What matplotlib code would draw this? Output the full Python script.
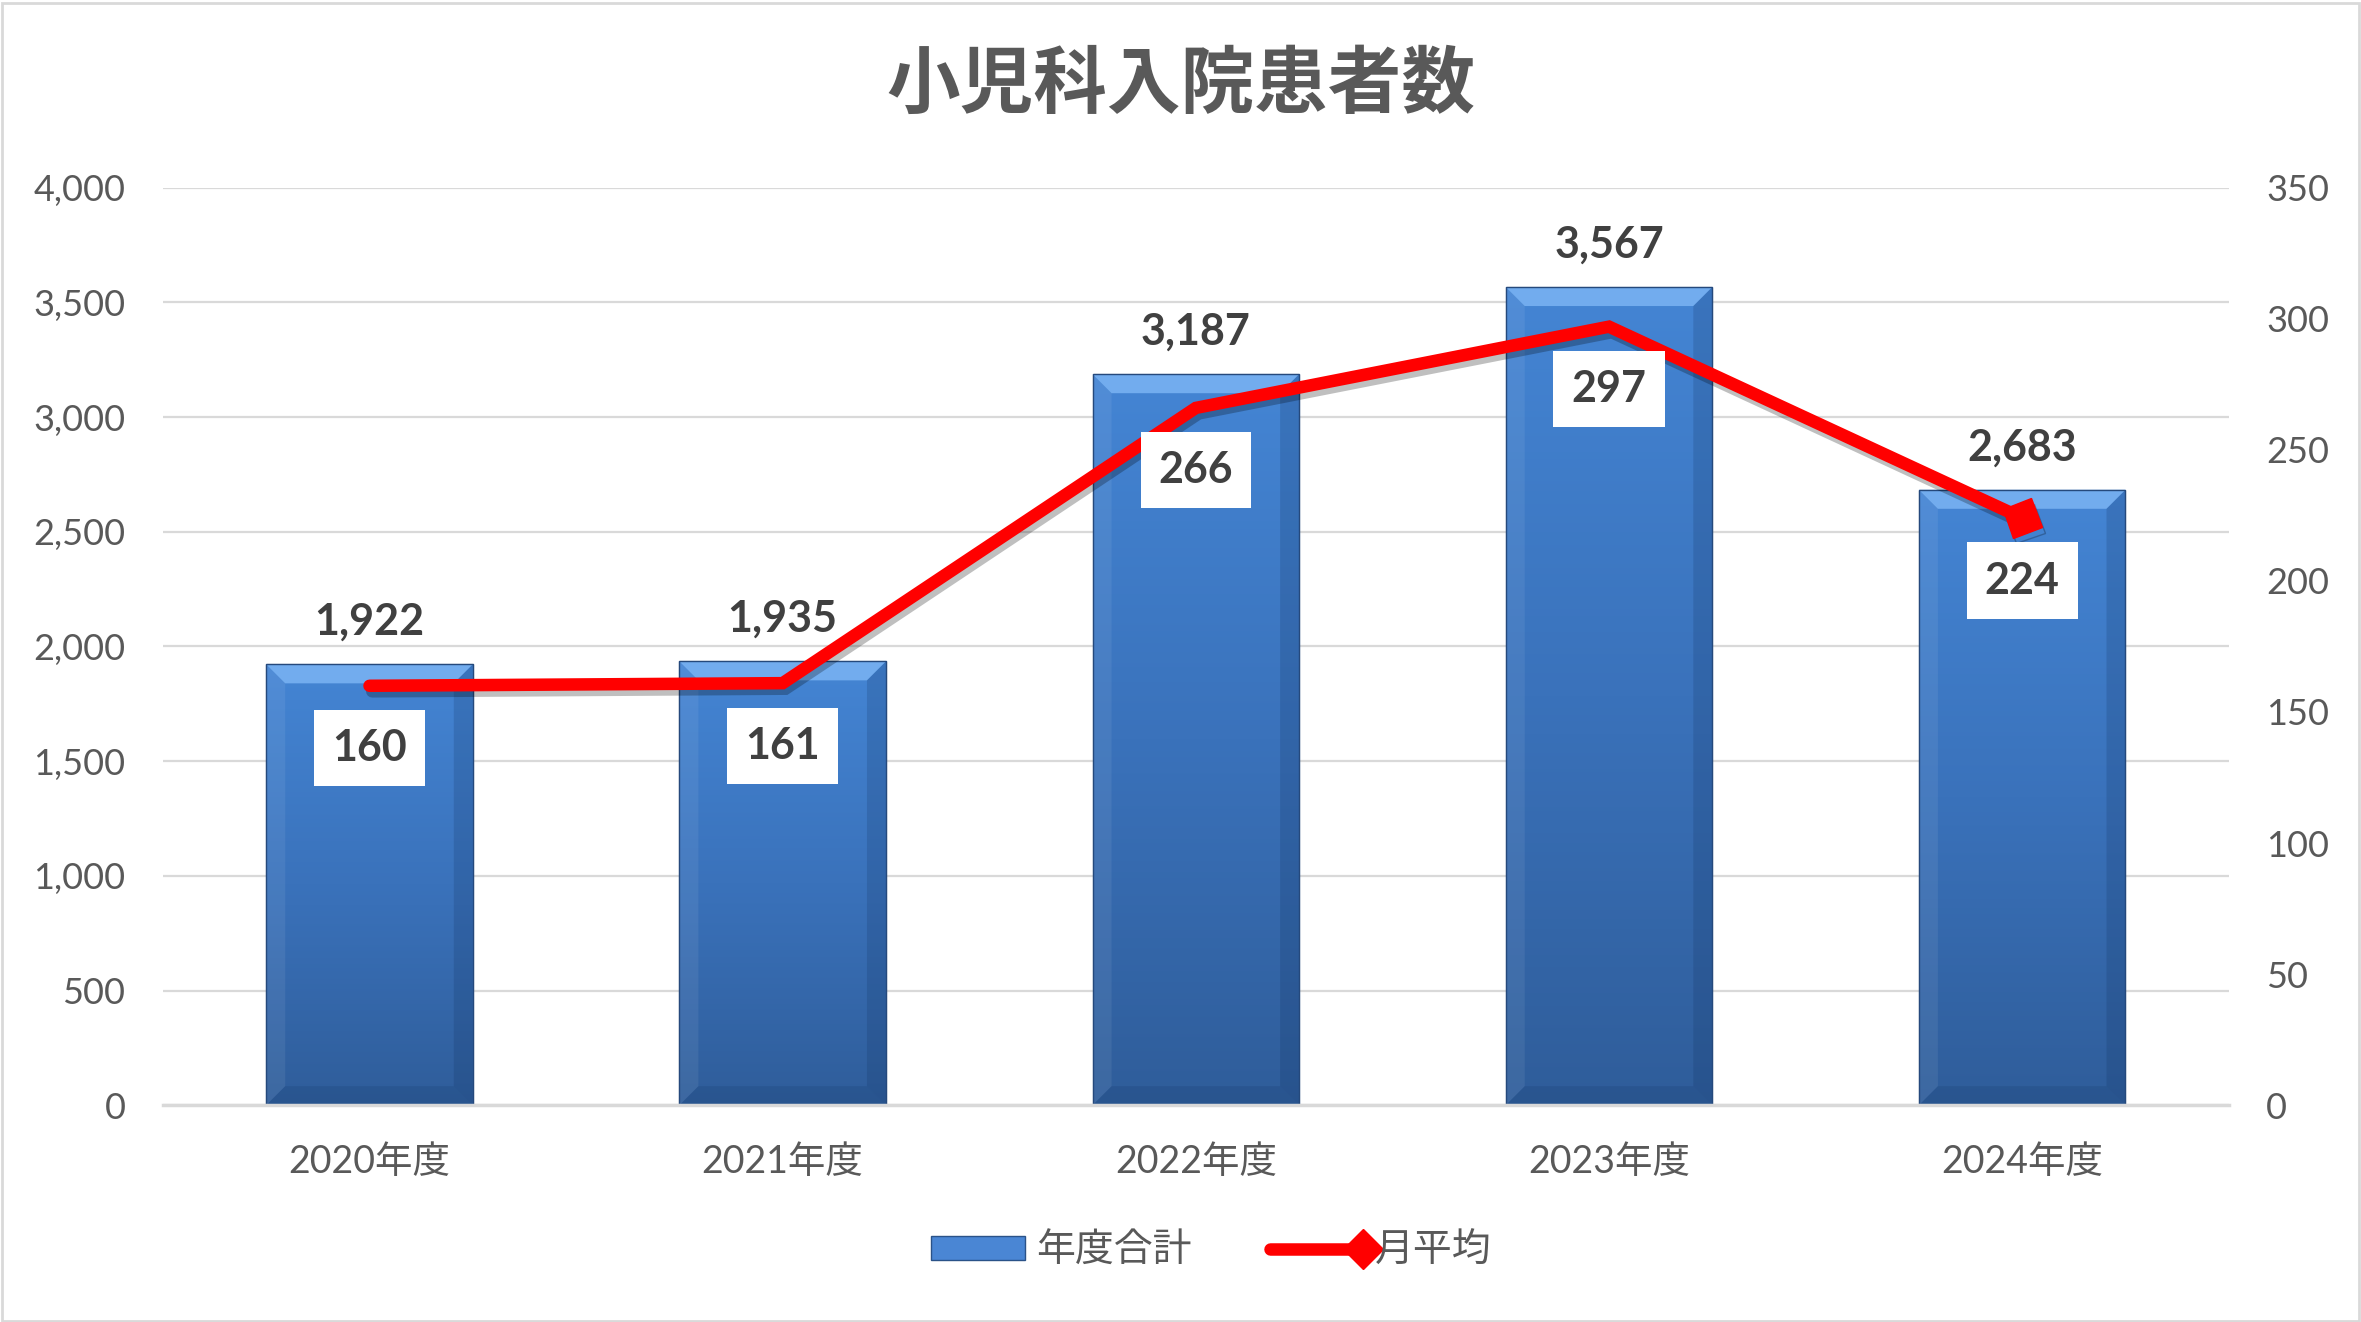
import numpy as np
import matplotlib
matplotlib.use("Agg")
import matplotlib.pyplot as plt
from matplotlib.patches import Polygon, Rectangle
from matplotlib.lines import Line2D
from matplotlib.markers import MarkerStyle
from matplotlib.transforms import Affine2D
from matplotlib.colors import LinearSegmentedColormap
from matplotlib.legend_handler import HandlerBase
import matplotlib.patheffects as pe
from matplotlib.ticker import FuncFormatter, MultipleLocator

plt.rcParams['font.family'] = ['Lato', 'Noto Sans CJK JP', 'DejaVu Sans']

# ---- data ----
title = "小児科入院患者数"
categories = ["2020年度", "2021年度", "2022年度", "2023年度", "2024年度"]
annual_total = [1922, 1935, 3187, 3567, 2683]
monthly_avg = [160, 161, 266, 297, 224]
bar_label = "年度合計"
line_label = "月平均"

W, H, DPI = 2361, 1322, 100
fig = plt.figure(figsize=(W / DPI, H / DPI), dpi=DPI)
fig.patch.set_facecolor("white")
fig.add_artist(Rectangle((0.001, 0.001), 0.998, 0.997, transform=fig.transFigure,
                         fill=False, edgecolor="#d9d9d9", lw=2))

ax = fig.add_axes([0.069, 0.164, 0.875, 0.694])
ax2 = ax.twinx()
ax.set_zorder(1)
ax2.set_zorder(2)
ax.patch.set_visible(False)
ax2.patch.set_visible(False)

x = np.arange(len(categories))
bw = 0.5
ax.set_xlim(-0.5, len(categories) - 0.5)
ax.set_ylim(0, 4000)
ax2.set_ylim(0, 350)

ax_w_px = 0.875 * W
ax_h_px = 0.694 * H
px_x = len(categories) / ax_w_px
px_y = 4000 / ax_h_px
bev = 19

grad = np.linspace(0, 1, 256).reshape(-1, 1)
cmap = LinearSegmentedColormap.from_list("b", ["#2f5d9a", "#3a72bb", "#4485d4"])

bars = ax.bar(x, annual_total, width=bw, color="#3f7bc8", edgecolor="#2a5288", lw=0.8, zorder=2)
for b in bars:
    x0, x1 = b.get_x(), b.get_x() + b.get_width()
    h = b.get_height()
    im = ax.imshow(grad, extent=[x0, x1, 0, h], origin="lower", cmap=cmap,
                   aspect="auto", zorder=2.1)
    im.set_clip_path(b)
    dx, dy = bev * px_x, bev * px_y
    ax.add_patch(Polygon([(x0, h), (x1, h), (x1 - dx, h - dy), (x0 + dx, h - dy)],
                         closed=True, facecolor="#72acee", edgecolor="none", zorder=2.2))
    ax.add_patch(Polygon([(x0, h), (x0 + dx, h - dy), (x0 + dx, dy), (x0, 0)],
                         closed=True, facecolor="white", alpha=0.07, edgecolor="none", zorder=2.2))
    ax.add_patch(Polygon([(x1, h), (x1 - dx, h - dy), (x1 - dx, dy), (x1, 0)],
                         closed=True, facecolor="#0d2a55", alpha=0.18, edgecolor="none", zorder=2.2))
    ax.add_patch(Polygon([(x0, 0), (x0 + dx, dy), (x1 - dx, dy), (x1, 0)],
                         closed=True, facecolor="#0d2a55", alpha=0.15, edgecolor="none", zorder=2.2))
    ax.add_patch(Rectangle((x0, 0), x1 - x0, h, fill=False, edgecolor="#25497c", lw=1.0, zorder=2.3))
    ax.annotate(f"{int(h):,}", (b.get_x() + b.get_width() / 2, h), xytext=(0, 16),
                textcoords="offset points", ha="center", va="bottom",
                fontsize=31, fontweight="bold", color="#404040", zorder=5)

ax.set_xlim(-0.5, len(categories) - 0.5)
ax.set_ylim(0, 4000)

ax.yaxis.set_major_locator(MultipleLocator(500))
ax.grid(axis="y", color="#d9d9d9", lw=1.6, zorder=0)
ax.set_axisbelow(True)
for s in ["top", "left", "right"]:
    ax.spines[s].set_visible(False)
    ax2.spines[s].set_visible(False)
ax2.spines["bottom"].set_visible(False)
ax.spines["bottom"].set_color("#d9d9d9")
ax.spines["bottom"].set_linewidth(2.5)

ax.yaxis.set_major_formatter(FuncFormatter(lambda v, p: f"{int(v):,}"))
ax.tick_params(axis="y", length=0, labelsize=26, labelcolor="#595959", pad=27)
ax.set_xticks(x)
ax.set_xticklabels(categories)
ax.tick_params(axis="x", length=0, labelsize=27, labelcolor="#595959", pad=28)
ax2.yaxis.set_major_locator(MultipleLocator(50))
ax2.tick_params(axis="y", length=0, labelsize=26, labelcolor="#595959", pad=27)

ln, = ax2.plot(x, monthly_avg, color="#ff0000", lw=9, solid_capstyle="round",
               solid_joinstyle="miter", zorder=3,
               path_effects=[pe.SimpleLineShadow(offset=(2, -4), alpha=0.25, shadow_color="black"),
                             pe.Normal()])
fig.canvas.draw()
p1 = ax2.transData.transform((x[-2], monthly_avg[-2]))
p2 = ax2.transData.transform((x[-1], monthly_avg[-1]))
ang = np.degrees(np.arctan2(p2[1] - p1[1], p2[0] - p1[0]))
ms = MarkerStyle("D", transform=Affine2D().rotate_deg(ang))
ax2.plot([x[-1]], [monthly_avg[-1]], marker=ms, ms=22, color="#ff0000", ls="none", zorder=3,
         path_effects=[pe.SimpleLineShadow(offset=(2, -4), alpha=0.25), pe.Normal()])

for xi, v in zip(x, monthly_avg):
    ax2.annotate(f"{v}", (xi, v), xytext=(0, -45), textcoords="offset points",
                 ha="center", va="center", fontsize=31, fontweight="bold", color="#404040",
                 bbox=dict(boxstyle="square,pad=0.42", fc="white", ec="none"), zorder=6)

fig.text(0.5, 0.935, title, ha="center", va="center", fontsize=53, fontweight="bold",
         color="#595959", family=["Noto Sans CJK JP"])


class EndDiamondHandler(HandlerBase):
    def create_artists(self, legend, orig_handle, xdescent, ydescent, width, height,
                       fontsize, trans):
        y = (height - ydescent) / 2
        x0, x1 = -xdescent, width - xdescent
        line = Line2D([x0, x1], [y, y], color="#ff0000", lw=9, solid_capstyle="round",
                      transform=trans)
        mk = Line2D([x1], [y], marker="D", ms=20, color="#ff0000", ls="none",
                    transform=trans)
        return [line, mk]


h_bar = Rectangle((0, 0), 1, 1, facecolor="#4a86d4", edgecolor="#2a5288", lw=1)
h_line = Line2D([], [], color="#ff0000", lw=9)
fig.legend([h_bar, h_line], [bar_label, line_label], loc="center",
           bbox_to_anchor=(0.513, 0.054), ncol=2, frameon=False,
           labelcolor="#595959", handlelength=2.4, handleheight=0.6, columnspacing=2.0,
           handletextpad=0.3, handler_map={h_line: EndDiamondHandler()},
           prop={"family": ["Noto Sans CJK JP"], "size": 28})

fig.savefig("out.png", dpi=DPI, facecolor="white")
